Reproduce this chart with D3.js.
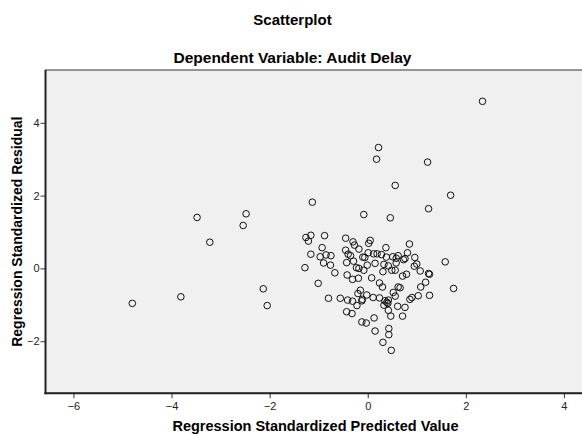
<!DOCTYPE html>
<html>
<head>
<meta charset="utf-8">
<script src="https://cdn.jsdelivr.net/npm/d3@7"></script>
<style>
  body { margin: 0; background: #fff; }
  svg { display: block; font-family: "Liberation Sans", Arial, sans-serif; }
</style>
</head>
<body>
<div id="chart"></div>
<script>
// chart values
const chartTitle = "Scatterplot";
const chartSubtitle = "Dependent Variable: Audit Delay";
const xLabel = "Regression Standardized Predicted Value";
const yLabel = "Regression Standardized Residual";

const xTicks = [-6, -4, -2, 0, 2, 4];
const yTicks = [-2, 0, 2, 4];

// regression standardized predicted value (x) and residual (y), per case
const predicted = [
  -3.48, -2.48, -2.54, -3.22, -2.13, -2.05, -4.80, -3.81,
  2.34, 0.22, 0.18, 1.22, 0.56, 1.69, -1.13, -0.08, 0.46, 1.24,
  -1.26, -1.16, -1.21, -0.88, -0.45, -0.30, -0.27, 0.05, 0.02, 0.85,
  -0.93, -1.16, -0.97, -0.85, -0.75, -0.45, -0.40, -0.35, -0.18, -0.10,
  -0.06, 0.01, 0.12, 0.19, 0.28, 0.37, 0.38, 0.51, 0.58, 0.62,
  0.73, 0.76, 0.81, 0.96, 1.58, -1.28, -0.90, -0.76, -0.43, -0.29,
  -0.23, -0.18, -0.01, 0.15, 0.33, 0.42, 0.49, 0.56, 0.58, 0.95,
  1.00, 1.07,
  -0.67, -0.42, -0.31, -0.19, 0.08, 0.31, 0.71, 0.79, 1.24, 1.26,
  -0.08, -1.01, 0.24, 0.30, 0.62, 0.66, 1.18, 1.08, 1.75, -0.15,
  -0.20, -0.02, 0.11, 0.24, 0.52, 0.56, -0.80, -0.56, -0.41, -0.31,
  -0.12, -0.11, -0.22, 0.35, 0.39, 0.42, 0.33, 0.41, 0.61, 0.76,
  0.86, 0.90, 1.03, 1.26, 0.42, -0.43, -0.32, 0.13, 0.47, 0.71,
  -0.12, -0.03, 0.15, 0.43, 0.43, 0.31, 0.48
];
const residual = [
  1.40, 1.50, 1.18, 0.72, -0.56, -1.02, -0.96, -0.78,
  4.59, 3.32, 3.00, 2.92, 2.28, 2.01, 1.82, 1.48, 1.39, 1.64,
  0.85, 0.91, 0.75, 0.90, 0.83, 0.73, 0.64, 0.77, 0.69, 0.67,
  0.57, 0.39, 0.32, 0.37, 0.35, 0.50, 0.39, 0.35, 0.53, 0.31,
  0.30, 0.43, 0.40, 0.40, 0.38, 0.57, 0.31, 0.32, 0.28, 0.35,
  0.24, 0.27, 0.43, 0.30, 0.18, 0.02, 0.15, 0.09, 0.16, 0.20,
  0.02, 0.00, 0.09, 0.14, 0.11, 0.07, -0.05, -0.05, 0.15, 0.06,
  0.12, -0.07,
  -0.12, -0.18, -0.30, -0.27, -0.26, -0.09, -0.21, -0.16, -0.14, -0.16,
  -0.05, -0.41, -0.40, -0.51, -0.51, -0.53, -0.38, -0.51, -0.55, -0.60,
  -0.69, -0.73, -0.80, -0.81, -0.66, -0.76, -0.82, -0.82, -0.87, -0.90,
  -0.89, -0.85, -1.02, -0.89, -0.93, -0.87, -1.01, -0.96, -1.04, -1.07,
  -0.85, -0.80, -0.75, -0.74, -1.15, -1.19, -1.24, -1.36, -1.31, -1.31,
  -1.47, -1.50, -1.72, -1.65, -1.82, -2.03, -2.25
];

const points = predicted.map((p, i) => ({ x: p, y: residual[i] }));

const width = 582, height = 434;
const plot = { left: 45.5, right: 585.5, top: 70, bottom: 393.3 };

const svg = d3.select("#chart")
  .append("svg")
  .attr("width", width)
  .attr("height", height);

const x = d3.scaleLinear()
  .domain([-6.57, 4.44])
  .range([plot.left, plot.right]);

const y = d3.scaleLinear()
  .domain([-3.43, 5.45])
  .range([plot.bottom, plot.top]);

// plot background
svg.append("rect")
  .attr("x", plot.left)
  .attr("y", plot.top)
  .attr("width", plot.right - plot.left)
  .attr("height", plot.bottom - plot.top)
  .attr("fill", "#f0f0f0")
  .attr("stroke", "#333")
  .attr("stroke-width", 1);

// axes
const xAxis = d3.axisBottom(x).tickValues(xTicks).tickSize(5).tickPadding(4);
const yAxis = d3.axisLeft(y).tickValues(yTicks).tickSize(5).tickPadding(1);

const gx = svg.append("g")
  .attr("transform", `translate(0,${plot.bottom})`)
  .call(xAxis);

const gy = svg.append("g")
  .attr("transform", `translate(${plot.left},0)`)
  .call(yAxis);

[gx, gy].forEach(g => {
  g.select(".domain").remove();
  g.selectAll(".tick line").attr("stroke", "#333");
  g.selectAll(".tick text")
    .attr("fill", "#222")
    .style("font-size", "11px")
    .style("font-family", "'Liberation Sans', Arial, sans-serif");
});

// heavier left and bottom axis lines
svg.append("line")
  .attr("x1", plot.left).attr("x2", plot.left)
  .attr("y1", plot.top).attr("y2", plot.bottom + 1)
  .attr("stroke", "#222").attr("stroke-width", 2);
svg.append("line")
  .attr("x1", plot.left - 1).attr("x2", plot.right)
  .attr("y1", plot.bottom).attr("y2", plot.bottom)
  .attr("stroke", "#222").attr("stroke-width", 2);

// points
svg.append("g")
  .selectAll("circle")
  .data(points)
  .enter().append("circle")
  .attr("cx", d => x(d.x))
  .attr("cy", d => y(d.y))
  .attr("r", 3.3)
  .attr("fill", "none")
  .attr("stroke", "#111")
  .attr("stroke-width", 1);

// titles
const titleX = 292.5;
const axisX = (plot.left + plot.right) / 2;

svg.append("text")
  .attr("x", titleX)
  .attr("y", 25)
  .attr("text-anchor", "middle")
  .style("font-weight", "bold")
  .style("font-size", "15px")
  .text(chartTitle);

svg.append("text")
  .attr("x", titleX)
  .attr("y", 63)
  .attr("text-anchor", "middle")
  .style("font-weight", "bold")
  .style("font-size", "15.5px")
  .text(chartSubtitle);

svg.append("text")
  .attr("x", axisX)
  .attr("y", 431)
  .attr("text-anchor", "middle")
  .style("font-weight", "bold")
  .style("font-size", "14.5px")
  .text(xLabel);

svg.append("text")
  .attr("text-anchor", "middle")
  .attr("transform", `translate(22,${(plot.top + plot.bottom) / 2}) rotate(-90)`)
  .style("font-weight", "bold")
  .style("font-size", "14px")
  .text(yLabel);
</script>
</body>
</html>
